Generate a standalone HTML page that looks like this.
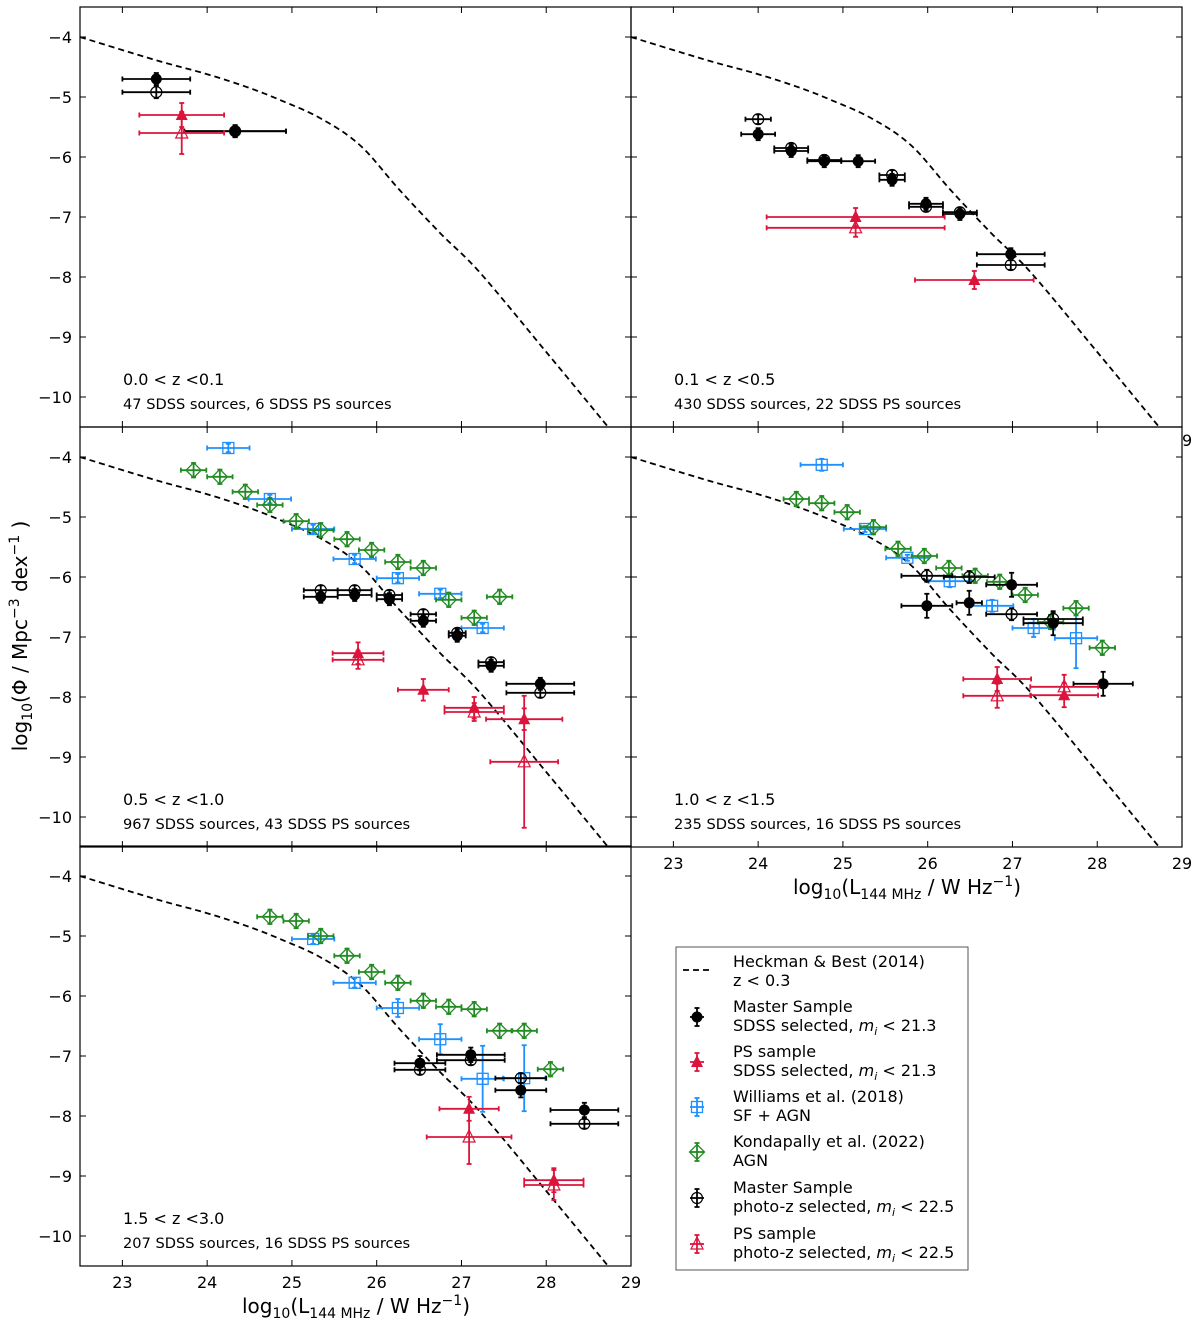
<!DOCTYPE html>
<html><head><meta charset="utf-8"><style>
body{margin:0;background:#fff}
svg text{font-family:"DejaVu Sans","Liberation Sans",sans-serif}
</style></head><body>
<svg id="c" width="1200" height="1327" xmlns="http://www.w3.org/2000/svg"></svg>
<script>
const heckX=[22.5,23.38,24.0,24.5,24.86,25.33,25.8,26.27,26.75,27.22,28.0,28.73,28.9];
const heckY=[-4.0,-4.38,-4.62,-4.85,-5.05,-5.35,-5.8,-6.55,-7.27,-7.93,-9.25,-10.5,-10.8];
// panel 1: 0.0<z<0.1
const p1MfX=[23.4,24.33], p1MfY=[-4.7,-5.57], p1MfXe=[0.4,0.6];
const p1MoX=[23.4,24.33], p1MoY=[-4.92,-5.57], p1MoXe=[0.4,0.6];
const p1PfX=[23.7], p1PfY=[-5.3], p1PfXe=[0.5];
const p1PoX=[23.7], p1PoY=[-5.6], p1PoXe=[0.5];
// panel 2: 0.1<z<0.5
const p2MfX=[24.0,24.39,24.78,25.18,25.58,25.98,26.38,26.98], p2MfY=[-5.62,-5.9,-6.07,-6.07,-6.38,-6.78,-6.95,-7.62], p2MfXe=[0.2,0.2,0.2,0.2,0.15,0.2,0.2,0.4];
const p2MoX=[24.0,24.39,24.78,25.58,25.98,26.38,26.98], p2MoY=[-5.37,-5.85,-6.05,-6.3,-6.83,-6.92,-7.8], p2MoXe=[0.15,0.2,0.2,0.15,0.2,0.2,0.4];
const p2PfX=[25.15,26.55], p2PfY=[-7.0,-8.05], p2PfXe=[1.05,0.7];
const p2PoX=[25.15], p2PoY=[-7.18], p2PoXe=[1.05];
// panel 3: 0.5<z<1.0
const p3WX=[24.25,24.74,25.25,25.74,26.25,26.75,27.25], p3WY=[-3.85,-4.7,-5.2,-5.7,-6.02,-6.28,-6.85];
const p3KX=[23.84,24.15,24.45,24.74,25.05,25.34,25.65,25.94,26.25,26.55,26.85,27.15,27.45], p3KY=[-4.22,-4.33,-4.58,-4.8,-5.07,-5.22,-5.37,-5.55,-5.75,-5.85,-6.38,-6.68,-6.33];
const p3MfX=[25.34,25.74,26.15,26.55,26.95,27.35,27.93], p3MfY=[-6.33,-6.3,-6.37,-6.73,-6.98,-7.48,-7.78], p3MfXe=[0.2,0.2,0.15,0.15,0.1,0.15,0.4];
const p3MoX=[25.34,25.74,26.15,26.55,26.95,27.35,27.93], p3MoY=[-6.22,-6.22,-6.3,-6.62,-6.93,-7.42,-7.93], p3MoXe=[0.2,0.2,0.15,0.15,0.1,0.15,0.4];
const p3PfX=[25.78,26.55,27.15,27.74], p3PfY=[-7.27,-7.88,-8.18,-8.37], p3PfXe=[0.3,0.3,0.35,0.45];
const p3PoX=[25.78,27.15,27.74], p3PoY=[-7.38,-8.25,-9.08], p3PoXe=[0.3,0.35,0.4], p3PoYe=[0.15,0.15,1.1];
// panel 4: 1.0<z<1.5
const p4WX=[24.75,25.26,25.76,26.26,26.76,27.25,27.75], p4WY=[-4.13,-5.2,-5.68,-6.07,-6.48,-6.85,-7.02], p4WYe=[0.1,0.05,0.05,0.1,0.1,0.15,0.5];
const p4KX=[24.45,24.75,25.05,25.36,25.65,25.96,26.25,26.56,26.85,27.15,27.45,27.75,28.06], p4KY=[-4.7,-4.77,-4.92,-5.17,-5.53,-5.65,-5.85,-5.98,-6.08,-6.3,-6.75,-6.52,-7.18];
const p4MfX=[25.99,26.49,26.99,27.48,28.07], p4MfY=[-6.48,-6.43,-6.13,-6.77,-7.78], p4MfXe=[0.3,0.15,0.3,0.35,0.35];
const p4MoX=[25.99,26.49,26.99,27.48], p4MoY=[-5.98,-6.0,-6.62,-6.7], p4MoXe=[0.3,0.3,0.3,0.35];
const p4PfX=[26.82,27.61], p4PfY=[-7.7,-7.97], p4PfXe=[0.4,0.4];
const p4PoX=[26.82,27.61], p4PoY=[-7.98,-7.83], p4PoXe=[0.4,0.4];
// panel 5: 1.5<z<3.0
const p5WX=[25.25,25.74,26.25,26.75,27.25,27.74], p5WY=[-5.05,-5.78,-6.2,-6.72,-7.38,-7.37], p5WYe=[0.08,0.08,0.15,0.25,0.55,0.55];
const p5KX=[24.74,25.05,25.34,25.65,25.94,26.25,26.55,26.85,27.15,27.45,27.74,28.05], p5KY=[-4.68,-4.75,-5.0,-5.33,-5.6,-5.78,-6.08,-6.18,-6.22,-6.58,-6.58,-7.22];
const p5MfX=[26.51,27.11,27.7,28.45], p5MfY=[-7.12,-6.98,-7.57,-7.9], p5MfXe=[0.3,0.4,0.3,0.4];
const p5MoX=[26.51,27.11,27.7,28.45], p5MoY=[-7.23,-7.07,-7.37,-8.13], p5MoXe=[0.3,0.4,0.3,0.4];
const p5PfX=[27.09,28.09], p5PfY=[-7.88,-9.07], p5PfXe=[0.35,0.35];
const p5PoX=[27.09,28.09], p5PoY=[-8.35,-9.15], p5PoXe=[0.5,0.35], p5PoYe=[0.45,0.25];
const xTicks=[23,24,25,26,27,28,29], yTicks=[-4,-5,-6,-7,-8,-9,-10];

const NS="http://www.w3.org/2000/svg", svg=document.getElementById('c');
const RED="#dc143c", BLUE="#1e90ff", GREEN="#228b22";
function mk(t,a,p){const e=document.createElementNS(NS,t);for(const k in a)e.setAttribute(k,a[k]);(p||svg).appendChild(e);return e;}
function txt(s,x,y,size,anchor,p){const e=mk('text',{x:x,y:y,'font-size':size,'text-anchor':anchor||'start',fill:'#000'},p);e.textContent=s;return e;}

function smoothPath(pts){
  let d='M'+pts[0][0]+','+pts[0][1];
  for(let i=0;i<pts.length-1;i++){
    const p0=pts[Math.max(i-1,0)],p1=pts[i],p2=pts[i+1],p3=pts[Math.min(i+2,pts.length-1)];
    const c1=[p1[0]+(p2[0]-p0[0])/6,p1[1]+(p2[1]-p0[1])/6];
    const c2=[p2[0]-(p3[0]-p1[0])/6,p2[1]-(p3[1]-p1[1])/6];
    d+='C'+c1[0]+','+c1[1]+' '+c2[0]+','+c2[1]+' '+p2[0]+','+p2[1];
  }
  return d;
}
function panel(name,x0,y0,showY,showX,label,sub){
  const g=mk('g',{});
  
  
  const W=551,H=420;
  const sx=v=>x0+(v-22.5)*W/6.5, sy=v=>y0+(-3.5-v)*60;
  const clipId='cl'+name;
  const cp=mk('clipPath',{id:clipId},g);mk('rect',{x:x0,y:y0,width:W,height:H},cp);
  const inner=mk('g',{'clip-path':'url(#'+clipId+')'},g);
  xTicks.forEach(t=>{const X=sx(t);mk('line',{x1:X,x2:X,y1:y0+H,y2:y0+H-6,stroke:'#000','stroke-width':1},g);mk('line',{x1:X,x2:X,y1:y0,y2:y0+6,stroke:'#000','stroke-width':1},g);
    if(showX){const l=txt(String(t),X,y0+H+22,16,'middle',g);}});
  yTicks.forEach(t=>{const Y=sy(t);mk('line',{x1:x0,x2:x0+6,y1:Y,y2:Y,stroke:'#000'},g);mk('line',{x1:x0+W,x2:x0+W-6,y1:Y,y2:Y,stroke:'#000'},g);
    if(showY){const l=txt('\u2212'+Math.abs(t),x0-8,Y+6,16,'end',g);}});
  const pts=heckX.map((v,i)=>[sx(v),sy(heckY[i])]);
  const hp=mk('path',{d:smoothPath(pts),fill:'none',stroke:'#000','stroke-width':1.8,'stroke-dasharray':'6,4'},inner);
  
  mk('rect',{x:x0,y:y0,width:W,height:H,fill:'none',stroke:'#000','stroke-width':1.2},g);
  const l1=txt(label,x0+43,y0+378,16,'start',g);
  const l2=txt(sub,x0+43,y0+402,14.6,'start',g);
  return {g:inner,sx:sx,sy:sy};
}
function errbar(p,X,Y,xe,ye,col,g){
  const x1=p.sx(X-xe),x2=p.sx(X+xe),y1=p.sy(Y-ye),y2=p.sy(Y+ye),cx=p.sx(X),cy=p.sy(Y);
  mk('line',{x1:x1,x2:x2,y1:cy,y2:cy,stroke:col,'stroke-width':1.8},g);
  mk('line',{x1:cx,x2:cx,y1:y1,y2:y2,stroke:col,'stroke-width':1.8},g);
  mk('line',{x1:x1,x2:x1,y1:cy-2.5,y2:cy+2.5,stroke:col,'stroke-width':1.8},g);
  mk('line',{x1:x2,x2:x2,y1:cy-2.5,y2:cy+2.5,stroke:col,'stroke-width':1.8},g);
  mk('line',{x1:cx-2.5,x2:cx+2.5,y1:y1,y2:y1,stroke:col,'stroke-width':1.8},g);
  mk('line',{x1:cx-2.5,x2:cx+2.5,y1:y2,y2:y2,stroke:col,'stroke-width':1.8},g);
}
function marker(type,cx,cy,g){
  let e;
  if(type==='mf')e=mk('circle',{cx:cx,cy:cy,r:5.5,fill:'#000'},g);
  else if(type==='mo')e=mk('circle',{cx:cx,cy:cy,r:5.5,fill:'none',stroke:'#000','stroke-width':1.2},g);
  else if(type==='pf')e=mk('polygon',{points:`${cx},${cy-7} ${cx-6},${cy+5} ${cx+6},${cy+5}`,fill:RED},g);
  else if(type==='po')e=mk('polygon',{points:`${cx},${cy-7} ${cx-6},${cy+5} ${cx+6},${cy+5}`,fill:'none',stroke:RED,'stroke-width':1.2},g);
  else if(type==='w')e=mk('rect',{x:cx-5.5,y:cy-5.5,width:11,height:11,fill:'none',stroke:BLUE,'stroke-width':1.3},g);
  else if(type==='k')e=mk('polygon',{points:`${cx},${cy-7.5} ${cx+7.5},${cy} ${cx},${cy+7.5} ${cx-7.5},${cy}`,fill:'none',stroke:GREEN,'stroke-width':1.3},g);
  return e;
}
const COL={mf:'#000',mo:'#000',pf:RED,po:RED,w:BLUE,k:GREEN};
const NAME={mf:'master-sdss-point',mo:'master-photoz-point',pf:'ps-sdss-point',po:'ps-photoz-point',w:'williams-point',k:'kondapally-point'};
function series(p,type,xs,ys,xe,ye){
  xs.forEach((v,i)=>{
    const g=mk('g',{},p.g);
    
    
    const dx=xe?(Array.isArray(xe)?xe[i]:xe):0.15;
    const dy=ye?(Array.isArray(ye)?ye[i]:ye):0.1;
    errbar(p,v,ys[i],dx,dy,COL[type],g);
    marker(type,p.sx(v),p.sy(ys[i]),g);
  });
}
const P1=panel('panel-z-0-0.1',80,7,true,false,'0.0 < z <0.1','47 SDSS sources, 6 SDSS PS sources');
series(P1,'mo',p1MoX,p1MoY,p1MoXe,0.1);series(P1,'mf',p1MfX,p1MfY,p1MfXe,0.1);
series(P1,'po',p1PoX,p1PoY,p1PoXe,0.35);series(P1,'pf',p1PfX,p1PfY,p1PfXe,0.2);
const P2=panel('panel-z-0.1-0.5',631,7,false,false,'0.1 < z <0.5','430 SDSS sources, 22 SDSS PS sources');
series(P2,'mo',p2MoX,p2MoY,p2MoXe,0.08);series(P2,'mf',p2MfX,p2MfY,p2MfXe,0.1);
series(P2,'po',p2PoX,p2PoY,p2PoXe,0.15);series(P2,'pf',p2PfX,p2PfY,p2PfXe,0.15);
const P3=panel('panel-z-0.5-1.0',80,427,true,false,'0.5 < z <1.0','967 SDSS sources, 43 SDSS PS sources');
series(P3,'w',p3WX,p3WY,0.25,0.07);series(P3,'k',p3KX,p3KY,0.15,0.12);
series(P3,'mo',p3MoX,p3MoY,p3MoXe,0.08);series(P3,'mf',p3MfX,p3MfY,p3MfXe,0.1);
series(P3,'po',p3PoX,p3PoY,p3PoXe,p3PoYe);series(P3,'pf',p3PfX,p3PfY,p3PfXe,0.18);
const P4=panel('panel-z-1.0-1.5',631,427,false,true,'1.0 < z <1.5','235 SDSS sources, 16 SDSS PS sources');
series(P4,'w',p4WX,p4WY,0.25,p4WYe);series(P4,'k',p4KX,p4KY,0.15,0.12);
series(P4,'mo',p4MoX,p4MoY,p4MoXe,0.1);series(P4,'mf',p4MfX,p4MfY,p4MfXe,0.2);
series(P4,'po',p4PoX,p4PoY,p4PoXe,0.2);series(P4,'pf',p4PfX,p4PfY,p4PfXe,0.2);
const P5=panel('panel-z-1.5-3.0',80,846,true,true,'1.5 < z <3.0','207 SDSS sources, 16 SDSS PS sources');
series(P5,'w',p5WX,p5WY,0.25,p5WYe);series(P5,'k',p5KX,p5KY,0.15,0.12);
series(P5,'mo',p5MoX,p5MoY,p5MoXe,0.08);series(P5,'mf',p5MfX,p5MfY,p5MfXe,0.12);
series(P5,'po',p5PoX,p5PoY,p5PoXe,p5PoYe);series(P5,'pf',p5PfX,p5PfY,p5PfXe,0.2);
const st=txt('9',1182,446,16,'start');
const lg=mk('g',{});


mk('rect',{x:676,y:947,width:292,height:323,fill:'#fff',stroke:'#555','stroke-width':1},lg);
mk('line',{x1:683,x2:711,y1:970,y2:970,stroke:'#000','stroke-width':1.8,'stroke-dasharray':'6,4'},lg);
txt('Heckman & Best (2014)',733,967,16,'start',lg);txt('z < 0.3',733,986,16,'start',lg);
const entries=[['mf',1017,'Master Sample','SDSS selected, '],['pf',1062,'PS sample','SDSS selected, '],['w',1107,'Williams et al. (2018)','SF + AGN'],['k',1152,'Kondapally et al. (2022)','AGN'],['mo',1198,'Master Sample','photo-z selected, '],['po',1244,'PS sample','photo-z selected, ']];
entries.forEach(en=>{
  const g=mk('g',{},lg);
  
  
  const c=COL[en[0]],cx=697,cy=en[1];
  mk('line',{x1:cx-7,x2:cx+7,y1:cy,y2:cy,stroke:c,'stroke-width':1.8},g);
  mk('line',{x1:cx,x2:cx,y1:cy-9,y2:cy+9,stroke:c,'stroke-width':1.8},g);
  mk('line',{x1:cx-2.5,x2:cx+2.5,y1:cy-9,y2:cy-9,stroke:c,'stroke-width':1.8},g);
  mk('line',{x1:cx-2.5,x2:cx+2.5,y1:cy+9,y2:cy+9,stroke:c,'stroke-width':1.8},g);
  marker(en[0],cx,cy,g);
  txt(en[2],733,cy-5,16,'start',g);
  const t=txt(en[3],733,cy+14,16,'start',g);
  if(en[3].endsWith(', ')){
    const m=document.createElementNS(NS,'tspan');m.setAttribute('font-style','italic');m.textContent='m';t.appendChild(m);
    const s=document.createElementNS(NS,'tspan');s.setAttribute('font-style','italic');s.setAttribute('font-size','11');s.setAttribute('dy','4');s.textContent='i';t.appendChild(s);
    const r=document.createElementNS(NS,'tspan');r.setAttribute('dy','-4');r.textContent=(en[3].startsWith('SDSS')?' < 21.3':' < 22.5');t.appendChild(r);
  }
});
function xlabel(cx,y){
  const t=mk('text',{x:cx,y:y,'font-size':20,'text-anchor':'middle'});
  
  
  t.innerHTML='log<tspan font-size="14" dy="5">10</tspan><tspan dy="-5">(L</tspan><tspan font-size="14" dy="5">144 MHz</tspan><tspan dy="-5"> / W Hz</tspan><tspan font-size="14" dy="-8">\u22121</tspan><tspan dy="8">)</tspan>';
}
xlabel(356,1313);xlabel(907,894);
const yl=mk('text',{x:0,y:0,'font-size':20,'text-anchor':'middle',transform:'translate(27,636) rotate(-90)'});


yl.innerHTML='log<tspan font-size="14" dy="5">10</tspan><tspan dy="-5">(\u03A6 / Mpc</tspan><tspan font-size="14" dy="-8">\u22123</tspan><tspan dy="8"> dex</tspan><tspan font-size="14" dy="-8">\u22121</tspan><tspan dy="8"> )</tspan>';
</script>
</body></html>
